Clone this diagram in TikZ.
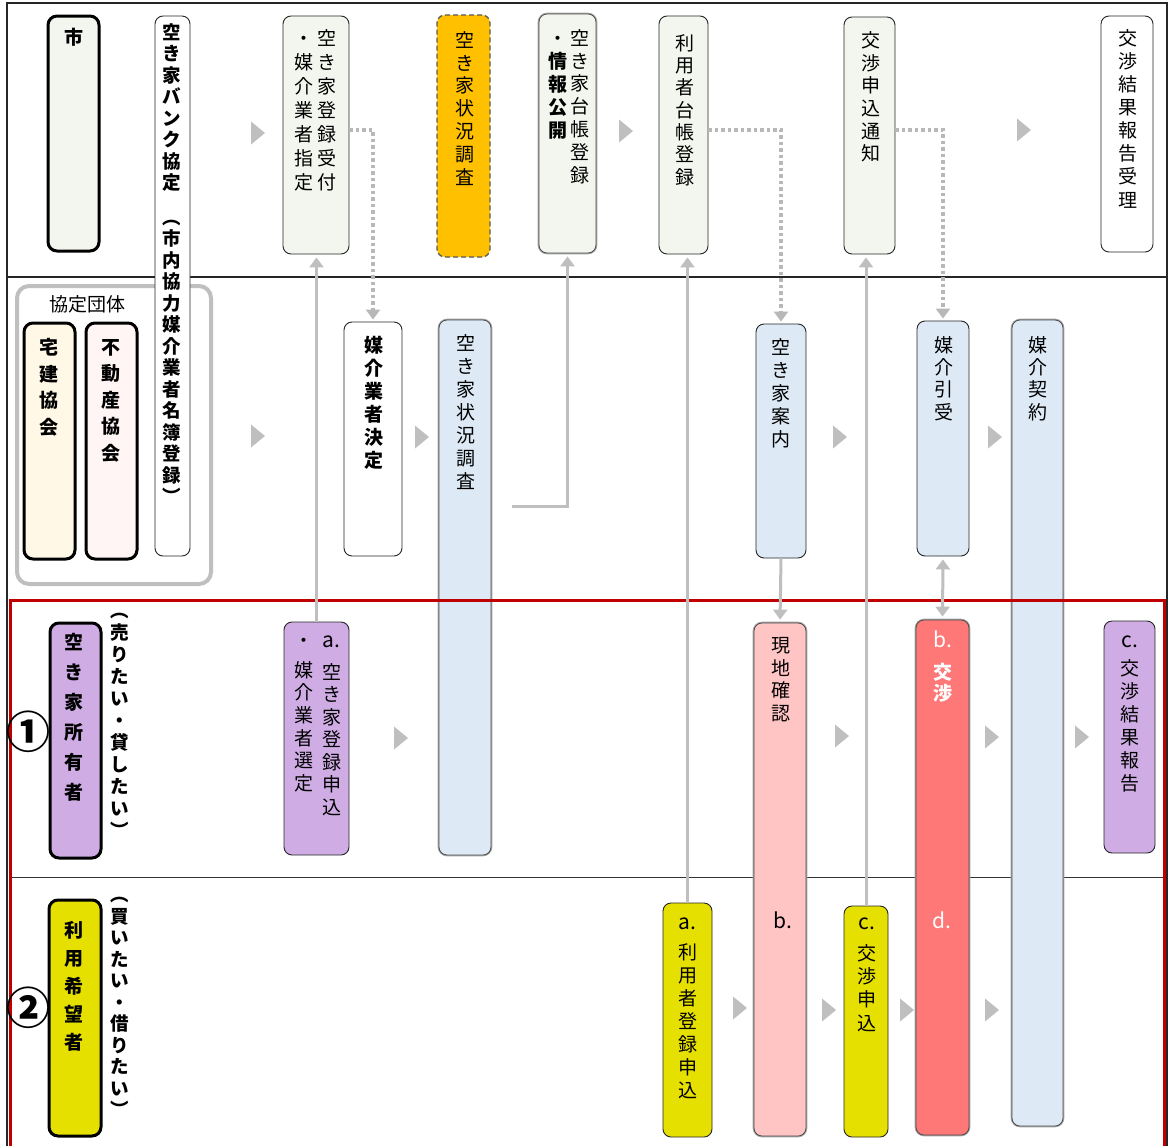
\documentclass[tikz,border=0pt]{standalone}
\usepackage{fontspec}
\setmainfont{Noto Sans CJK JP}
\usetikzlibrary{arrows.meta}
\definecolor{lgreen}{HTML}{F2F6EE}
\definecolor{orng}{HTML}{FFC000}
\definecolor{lblue}{HTML}{DDEAF6}
\definecolor{lpink}{HTML}{FFC4C4}
\definecolor{lred}{HTML}{FF7878}
\definecolor{lpurple}{HTML}{CFADE4}
\definecolor{yel}{HTML}{E6E000}
\definecolor{cream}{HTML}{FFF8E6}
\definecolor{ppink}{HTML}{FFF5F5}
\definecolor{arr}{HTML}{BFBFBF}
\definecolor{dotc}{HTML}{B8B8B8}
\definecolor{dred}{HTML}{C00000}
\newcommand\fz[2]{\fontsize{#1}{#2}\selectfont}
\newcommand\vsst{\rule{0pt}{0.85em}}
\newcommand\lt[1]{{\fontsize{21}{23}\selectfont #1}}
\tikzset{
 box/.style={rounded corners=8pt, inner sep=0pt},
 thinbox/.style={box, draw=black!85, line width=0.9pt},
 dblbox/.style={box, draw=black!70, line width=0.8pt, preaction={draw=black!35, line width=2.6pt}},
 thickbox/.style={box, rounded corners=9pt, draw=black, line width=3pt},
 dashbox/.style={box, draw=black!65, line width=1.3pt, dash pattern=on 5pt off 3pt},
 grpbox/.style={box, rounded corners=12pt, draw=arr, line width=4pt},
 vt/.style={align=center, inner sep=0pt, anchor=north},
 lab/.style={inner sep=0pt, font=\fz{19}{22}},
 garrow/.style={draw=arr, line width=3pt, -{Triangle[width=14pt,length=10pt]}, shorten >=3pt},
 gboth/.style={draw=arr, line width=3pt, {Triangle[width=14pt,length=10pt]}-{Triangle[width=14pt,length=10pt]}, shorten >=3pt, shorten <=3pt},
 gdot/.style={draw=dotc, line width=3.5pt, dash pattern=on 3.5pt off 3pt, -{Triangle[width=14pt,length=10pt]}, shorten >=2pt},
 tri/.pic={\fill[arr] (0,-11.5) -- (14,0) -- (0,11.5) -- cycle;}
}
\begin{document}
\begin{tikzpicture}[x=1pt,y=-1pt]
\useasboundingbox (0,0) rectangle (1168,1146);
\fill[white] (0,0) rectangle (1168,1146);
% row lines
\draw[black!85, line width=1.2pt] (7,277) -- (1167,277);
\draw[black!80, line width=1pt] (10,877) -- (1164,877);
% outer frame
\draw[black!85, line width=1.2pt] (7,3) rectangle (1167,1152);
% group
\node[grpbox, minimum width=194pt, minimum height=298pt] (grp) at (114,435) {};
% row 1 boxes
\node[thickbox, fill=lgreen, minimum width=51pt, minimum height=235pt] (shi) at (73.5,133.5) {};
\node[thinbox, fill=white, minimum width=35pt, minimum height=540pt] (bank) at (172.5,286) {};
\node[thinbox, fill=lgreen, minimum width=66pt, minimum height=238pt] (uk) at (316,135) {};
\node[dashbox, fill=orng, minimum width=53pt, minimum height=242pt] (chosa1) at (463.5,136) {};
\node[dblbox, fill=lgreen, minimum width=57pt, minimum height=239pt] (daicho) at (567.5,133.5) {};
\node[thinbox, fill=lgreen, minimum width=49pt, minimum height=238pt] (riyo) at (683.5,135) {};
\node[thinbox, fill=lgreen, minimum width=51pt, minimum height=237pt] (tsuchi) at (869.5,135.5) {};
\node[thinbox, fill=white, minimum width=52pt, minimum height=236pt] (juri) at (1127,134) {};
% row 2 boxes
\node[thickbox, fill=cream, minimum width=51pt, minimum height=236pt] (takken) at (49.5,441) {};
\node[thickbox, fill=ppink, minimum width=51pt, minimum height=236pt] (fudosan) at (111.5,441) {};
\node[thinbox, fill=white, minimum width=58pt, minimum height=234pt] (kettei) at (373,439) {};
\node[dblbox, fill=lblue, minimum width=52pt, minimum height=535pt] (survey) at (465,587.5) {};
\node[thinbox, fill=lblue, minimum width=50pt, minimum height=234pt] (annai) at (781,441) {};
\node[thinbox, fill=lblue, minimum width=52pt, minimum height=235pt] (hikiuke) at (943,438.5) {};
\node[dblbox, fill=lblue, minimum width=51pt, minimum height=806pt] (keiyaku) at (1037.5,723) {};
% row 3 boxes
\node[thickbox, fill=lpurple, minimum width=51pt, minimum height=235pt] (owner) at (75.5,740.5) {};
\node[thinbox, fill=lpurple, minimum width=65pt, minimum height=233pt] (a1) at (316.5,738.5) {};
\node[dblbox, fill=lpink, minimum width=52pt, minimum height=513pt] (genchi) at (780,879.5) {};
\node[dblbox, fill=lred, minimum width=53pt, minimum height=515pt] (koshou) at (942.5,877.5) {};
\node[thinbox, fill=lpurple, minimum width=51pt, minimum height=232pt] (c1) at (1129.5,737) {};
% row 4 boxes
\node[thickbox, fill=yel, minimum width=52pt, minimum height=236pt] (user) at (75,1018) {};
\node[thinbox, fill=yel, minimum width=49pt, minimum height=234pt] (ya) at (687.5,1020) {};
\node[thinbox, fill=yel, minimum width=44pt, minimum height=231pt] (yc) at (866,1021.5) {};
% red frame
\draw[dred, line width=3pt] (10.5,600) rectangle (1164.5,1152);
% connectors
\coordinate (h1) at (0,130);
\coordinate (s1) at (512,506);
\draw[gdot] (uk.east |- h1) -| (kettei.north);
\draw[gdot] (riyo.east |- h1) -| (annai.north);
\draw[gdot] (tsuchi.east |- h1) -| (hikiuke.north);
\draw[garrow] (a1.north) -- (a1.north |- uk.south);
\draw[garrow] (s1) -| (daicho.south);
\draw[garrow] (ya.north) -- (ya.north |- riyo.south);
\draw[garrow] (annai.south) -- (genchi.north);
\draw[garrow] (yc.north) -- (yc.north |- tsuchi.south);
\draw[gboth] (hikiuke.south) -- (koshou.north);
% step triangles
\pic at (251,133) {tri};
\pic at (619,131) {tri};
\pic at (1017,130) {tri};
\pic at (251,436) {tri};
\pic at (415,437) {tri};
\pic at (833,437) {tri};
\pic at (988,437) {tri};
\pic at (394,738) {tri};
\pic at (835,736) {tri};
\pic at (985,737) {tri};
\pic at (1075,737) {tri};
\pic at (733,1008) {tri};
\pic at (822,1010) {tri};
\pic at (900,1010) {tri};
\pic at (985,1010) {tri};
% texts row 1
\node[vt, font=\fz{19}{22}\bfseries] (tshi) at (73.5,28) {\vsst 市};
\node[vt, font=\fz{18.5}{21.5}\bfseries] (tbank) at (172,23) {\vsst 空\\き\\家\\バ\\ン\\ク\\協\\定\\[13pt]︵\\市\\内\\協\\力\\媒\\介\\業\\者\\名\\簿\\登\\録\\︶};
\node[vt, font=\fz{19}{24}] (tuk1) at (327,29) {\vsst 空\\き\\家\\登\\録\\受\\付};
\node[vt, font=\fz{19}{24}] (tuk2) at (303.5,29) {\vsst ・\\媒\\介\\業\\者\\指\\定};
\node[vt, font=\fz{19}{22.8}] (tchosa1) at (465,31) {\vsst 空\\き\\家\\状\\況\\調\\査};
\node[vt, font=\fz{19}{22.8}] (tdai1) at (580,29) {\vsst 空\\き\\家\\台\\帳\\登\\録};
\node[vt, font=\fz{19}{23}] (tdai2) at (557.5,29) {\vsst ・\\\bfseries 情\\\bfseries 報\\\bfseries 公\\\bfseries 開};
\node[vt, font=\fz{19}{22.3}] (triyo) at (684.5,34) {\vsst 利\\用\\者\\台\\帳\\登\\録};
\node[vt, font=\fz{19}{22.7}] (ttsuchi) at (870.5,31) {\vsst 交\\渉\\申\\込\\通\\知};
\node[vt, font=\fz{19}{23.1}] (tjuri) at (1127.5,29) {\vsst 交\\渉\\結\\果\\報\\告\\受\\理};
% texts row 2
\node[lab] (tgrp) at (87,304) {協定団体};
\node[vt, font=\fz{19}{26.7}\bfseries] (ttakken) at (49,338) {\vsst 宅\\建\\協\\会};
\node[vt, font=\fz{19}{26.5}\bfseries] (tfudosan) at (110.5,338) {\vsst 不\\動\\産\\協\\会};
\node[vt, font=\fz{19}{23}\bfseries] (tkettei) at (374,336) {\vsst 媒\\介\\業\\者\\決\\定};
\node[vt, font=\fz{19}{23}] (tsurvey) at (466,334) {\vsst 空\\き\\家\\状\\況\\調\\査};
\node[vt, font=\fz{19}{23}] (tannai) at (781,338) {\vsst 空\\き\\家\\案\\内};
\node[vt, font=\fz{19}{22.3}] (thikiuke) at (944,336) {\vsst 媒\\介\\引\\受};
\node[vt, font=\fz{19}{22.3}] (tkeiyaku) at (1038,336) {\vsst 媒\\介\\契\\約};
% texts row 3
\node[inner sep=0pt, font=\fz{44}{46}\bfseries] (n1) at (28,732) {①};
\node[vt, font=\fz{19}{30}\bfseries] (towner) at (74,633) {\vsst 空\\き\\家\\所\\有\\者};
\node[vt, font=\fz{18.5}{22}\bfseries] (turi) at (120,602) {\vsst ︵\\売\\り\\た\\い\\・\\貸\\し\\た\\い\\︶};
\node[vt, font=\fz{19}{22.5}] (ta1a) at (331.5,631) {\vsst \lt{a.}\\[9.5pt]空\\き\\家\\登\\録\\申\\込};
\node[vt, font=\fz{19}{22.7}] (ta1b) at (303.5,631) {\vsst ・\\[7pt]媒\\介\\業\\者\\選\\定};
\node[vt, font=\fz{19}{22.7}] (tgenchi) at (781,636) {\vsst 現\\地\\確\\認};
\node[inner sep=0pt, font=\fz{21}{23}] (tgb) at (783,920) {b.};
\node[vt, font=\fz{19}{21}, text=white] (tkoshou) at (943,631) {\vsst \lt{b.}\\[11pt]\bfseries 交\\\bfseries 渉};
\node[inner sep=0pt, font=\fz{21}{23}, text=white] (tkd) at (942,920) {d.};
\node[vt, font=\fz{19}{23}] (tc1) at (1130,631) {\vsst \lt{c.}\\[5pt]交\\渉\\結\\果\\報\\告};
% texts row 4
\node[inner sep=0pt, font=\fz{44}{46}\bfseries] (n2) at (28,1008) {②};
\node[vt, font=\fz{19}{28}\bfseries] (tuser) at (74,921) {\vsst 利\\用\\希\\望\\者};
\node[vt, font=\fz{18.5}{21.5}\bfseries] (tkai) at (120,886) {\vsst ︵\\買\\い\\た\\い\\・\\借\\り\\た\\い\\︶};
\node[vt, font=\fz{19}{23}] (tya) at (687.5,913) {\vsst \lt{a.}\\[7pt]利\\用\\者\\登\\録\\申\\込};
\node[vt, font=\fz{19}{23.3}] (tyc) at (867,913) {\vsst \lt{c.}\\[7.5pt]交\\渉\\申\\込};
\end{tikzpicture}
\end{document}
